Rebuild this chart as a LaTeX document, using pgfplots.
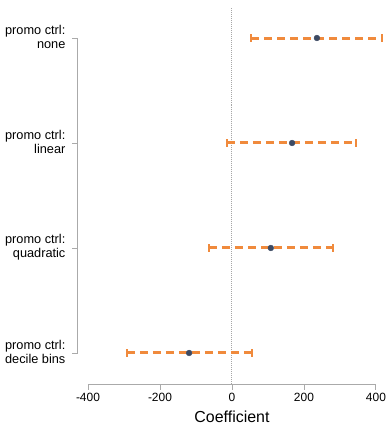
\documentclass[border=0pt]{standalone}
\usepackage{pgfplots}
\pgfplotsset{compat=1.18}
\usepackage{fontspec}
\setmainfont{Liberation Sans}
\definecolor{ciorange}{HTML}{F08A3C}
\definecolor{pnavy}{HTML}{3C4A63}
\definecolor{axgray}{HTML}{AAAAAA}
\begin{document}
\begin{tikzpicture}
\begin{axis}[
  x=0.36bp, y=105bp,
  xmin=-400, xmax=400, ymin=0.705, ymax=4.286,
  clip=false,
  axis x line*=bottom,
  axis y line=none,
  x axis line style={draw=axgray, line width=0.9bp, -},
  xtick={-400,-200,0,200,400},
  xticklabels={-400,-200,0,200,400},
  x tick style={draw=axgray, line width=0.9bp},
  tick align=outside,
  major tick length=6bp,
  xticklabel style={font=\fontsize{12}{14}\selectfont, text=black, yshift=0bp},
  xlabel={Coefficient},
  xlabel style={font=\fontsize{16}{18}\selectfont, yshift=-2bp},
  ytick=\empty,
]
% zero reference line
\addplot[draw=gray!70, densely dotted, line width=1bp] coordinates {(0,0.705) (0,4.286)};
% y axis line and ticks
\draw[axgray, line width=0.9bp] (axis cs:-428,1) -- (axis cs:-428,4);
\draw[axgray, line width=0.9bp] (axis cs:-428,1) -- (axis cs:-444.7,1);
\draw[axgray, line width=0.9bp] (axis cs:-428,2) -- (axis cs:-444.7,2);
\draw[axgray, line width=0.9bp] (axis cs:-428,3) -- (axis cs:-444.7,3);
\draw[axgray, line width=0.9bp] (axis cs:-428,4) -- (axis cs:-444.7,4);
\node[anchor=east, align=right, font=\fontsize{12.8}{14}\selectfont] at (axis cs:-453,4.01) {promo ctrl:\\none};
\node[anchor=east, align=right, font=\fontsize{12.8}{14}\selectfont] at (axis cs:-453,3.01) {promo ctrl:\\linear};
\node[anchor=east, align=right, font=\fontsize{12.8}{14}\selectfont] at (axis cs:-453,2.01) {promo ctrl:\\quadratic};
\node[anchor=east, align=right, font=\fontsize{12.8}{14}\selectfont] at (axis cs:-453,1.01) {promo ctrl:\\decile bins};
% intervals
\pgfplotsset{ci/.style={draw=ciorange, line width=3bp, dash pattern=on 8bp off 5bp, mark=|, mark options={solid, line width=2.2bp, mark size=3.6bp}}}
\addplot[ci] coordinates {(53,4) (417,4)};
\addplot[ci] coordinates {(-14,3) (344,3)};
\addplot[ci] coordinates {(-64,2) (281,2)};
\addplot[ci] coordinates {(-292,1) (56,1)};
% estimates
\addplot[only marks, mark=*, mark size=2.9bp, color=pnavy] coordinates {(236,4) (167,3) (108,2) (-119,1)};
\coordinate (bl) at (axis cs:-644.4,0.295);
\coordinate (tr) at (axis cs:436.1,4.362);
\end{axis}
\pgfresetboundingbox
\path[use as bounding box] (bl) rectangle (tr);
\end{tikzpicture}
\end{document}
